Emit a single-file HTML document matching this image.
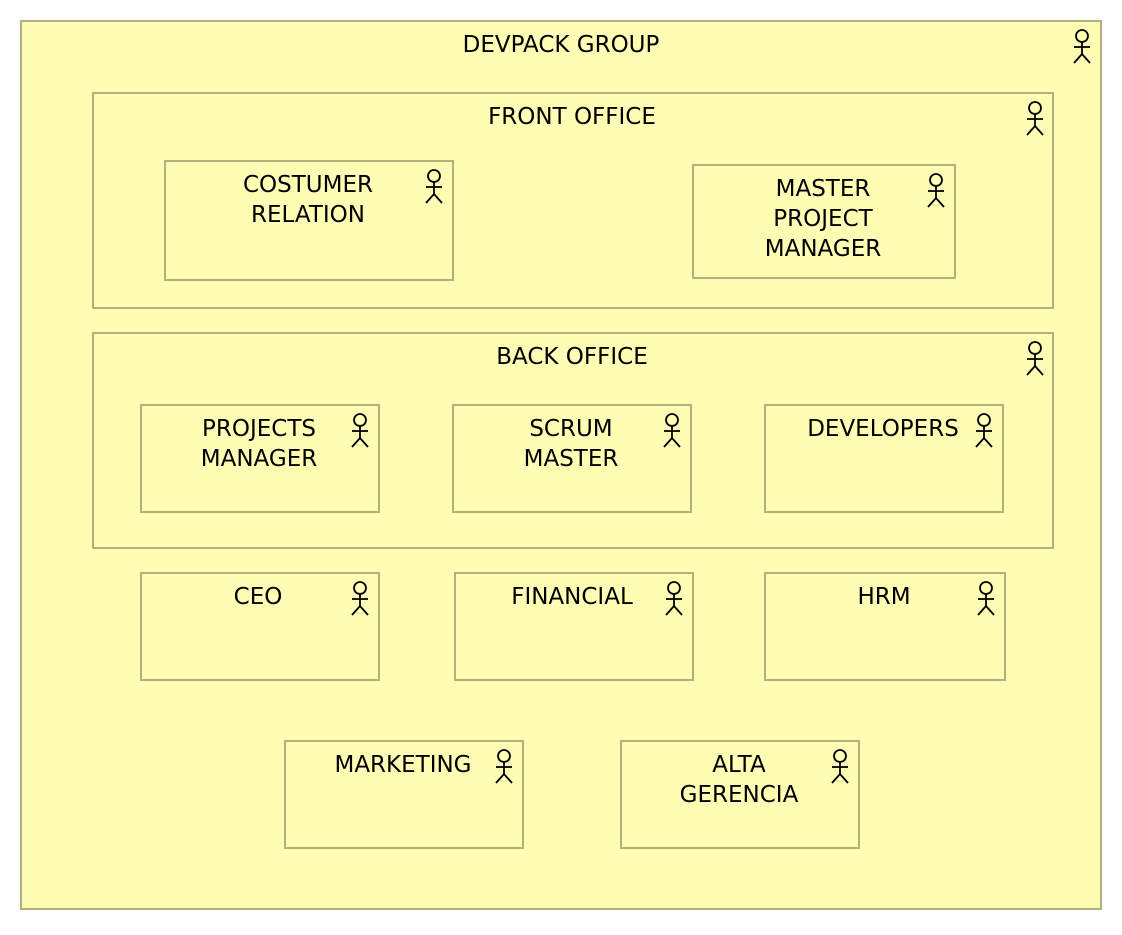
<!DOCTYPE html>
<html><head><meta charset="utf-8"><style>
html,body{margin:0;padding:0;background:#fff;}
svg text{font-family:"DejaVu Sans","Liberation Sans",sans-serif;font-size:23px;fill:#000;text-anchor:middle;}
</style></head><body>
<svg width="1122" height="930" xmlns="http://www.w3.org/2000/svg">
<defs>
<g id="a" fill="none" stroke="#000" stroke-width="1.8">
<circle cx="0" cy="0" r="6"/>
<line x1="0" y1="6" x2="0" y2="18"/>
<line x1="-8" y1="11" x2="8" y2="11"/>
<line x1="-8" y1="27" x2="0" y2="18"/>
<line x1="8" y1="27" x2="0" y2="18"/>
</g>
</defs>
<g fill="#fffcb4" stroke="#b3b07e" stroke-width="2">
<rect x="21" y="21" width="1080" height="888"/>
<rect x="93" y="93" width="960" height="215"/>
<rect x="165" y="161" width="288" height="119"/>
<rect x="693" y="165" width="262" height="113"/>
<rect x="93" y="333" width="960" height="215"/>
<rect x="141" y="405" width="238" height="107"/>
<rect x="453" y="405" width="238" height="107"/>
<rect x="765" y="405" width="238" height="107"/>
<rect x="141" y="573" width="238" height="107"/>
<rect x="455" y="573" width="238" height="107"/>
<rect x="765" y="573" width="240" height="107"/>
<rect x="285" y="741" width="238" height="107"/>
<rect x="621" y="741" width="238" height="107"/>
</g>
<use href="#a" x="1082" y="36"/>
<use href="#a" x="1035" y="108"/>
<use href="#a" x="434" y="176"/>
<use href="#a" x="936" y="180"/>
<use href="#a" x="1035" y="348"/>
<use href="#a" x="360" y="420"/>
<use href="#a" x="672" y="420"/>
<use href="#a" x="984" y="420"/>
<use href="#a" x="360" y="588"/>
<use href="#a" x="674" y="588"/>
<use href="#a" x="986" y="588"/>
<use href="#a" x="504" y="756"/>
<use href="#a" x="840" y="756"/>
<text x="561" y="52">DEVPACK GROUP</text>
<text x="572" y="124">FRONT OFFICE</text>
<text x="308" y="192">COSTUMER</text>
<text x="308" y="222">RELATION</text>
<text x="823" y="196">MASTER</text>
<text x="823" y="226">PROJECT</text>
<text x="823" y="256">MANAGER</text>
<text x="572" y="364">BACK OFFICE</text>
<text x="259" y="436">PROJECTS</text>
<text x="259" y="466">MANAGER</text>
<text x="571" y="436">SCRUM</text>
<text x="571" y="466">MASTER</text>
<text x="883" y="436">DEVELOPERS</text>
<text x="258" y="604">CEO</text>
<text x="572" y="604">FINANCIAL</text>
<text x="884" y="604">HRM</text>
<text x="403" y="772">MARKETING</text>
<text x="739" y="772">ALTA</text>
<text x="739" y="802">GERENCIA</text>
</svg>
</body></html>
